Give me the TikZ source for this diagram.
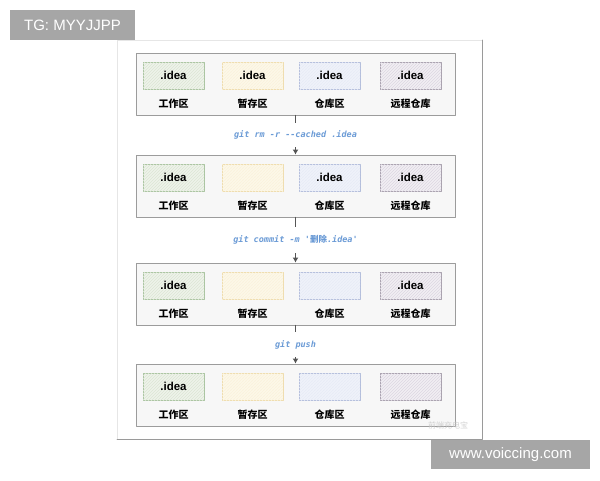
\documentclass[tikz,border=0pt]{standalone}
\usepackage{fontspec}
\setmainfont{Liberation Sans}
\newfontfamily\cjkfont{Noto Sans CJK SC}
\newfontfamily\cmdfont{DejaVu Sans Mono}
\usetikzlibrary{arrows.meta, patterns}

\definecolor{panelgray}{HTML}{9C9C9C}
\definecolor{linegray}{HTML}{555555}
\definecolor{cmdblue}{HTML}{6B9BD6}
\definecolor{stampgray}{HTML}{A6A6A6}
\definecolor{framegray}{HTML}{9A9A9A}
\definecolor{greenline}{HTML}{A9C4A0}
\definecolor{greenfill}{HTML}{EEF3EA}
\definecolor{greenhatch}{HTML}{DCE6D5}
\definecolor{yellowline}{HTML}{EFDDAE}
\definecolor{yellowfill}{HTML}{FDF8E8}
\definecolor{yellowhatch}{HTML}{FAF2DC}
\definecolor{blueline}{HTML}{B3BEDB}
\definecolor{bluefill}{HTML}{EFF2FA}
\definecolor{bluehatch}{HTML}{E7EBF6}
\definecolor{purpleline}{HTML}{A8A1AD}
\definecolor{purplefill}{HTML}{F1EEF3}
\definecolor{purplehatch}{HTML}{DDD7E2}

\tikzset{
  panel/.style={draw=panelgray, fill=white!97!black, line width=0.9pt, minimum width=319pt, minimum height=62pt, inner sep=0pt},
  areabox/.style={line width=1pt, minimum width=61pt, minimum height=27pt, inner sep=0pt,
    font=\bfseries\fontsize{11.5}{11.5}\selectfont},
  workbox/.style={areabox, draw=greenline, fill=greenfill, postaction={pattern=north east lines, pattern color=greenhatch}},
  stagebox/.style={areabox, draw=yellowline, fill=yellowfill, postaction={pattern=north east lines, pattern color=yellowhatch}},
  repobox/.style={areabox, draw=blueline, fill=bluefill, postaction={pattern=north east lines, pattern color=bluehatch}},
  remotebox/.style={areabox, draw=purpleline, fill=purplefill, postaction={pattern=north east lines, pattern color=purplehatch}},
  arealabel/.style={font=\cjkfont\bfseries\fontsize{10}{10}\selectfont},
  cmd/.style={fill=white, text=cmdblue, inner xsep=2pt, inner ysep=8pt,
    font=\cmdfont\bfseries\itshape\fontsize{8.5}{8.5}\selectfont},
  stepline/.style={draw=linegray, line width=1pt, -{Latex[length=5pt,width=6pt]}},
  stamp/.style={fill=stampgray, text=white, inner sep=0pt, font=\fontsize{15}{15}\selectfont}
}

\begin{document}
\begin{tikzpicture}[x=1pt, y=-1pt, line cap=round, line join=round]
  \useasboundingbox (0,0) rectangle (600,480);

  %========================
  % photo frame
  %========================
  \draw[framegray!25, line width=0.6pt] (117,439) -- (117,40) -- (482,40);
  \draw[framegray, line width=0.9pt] (117,439) -- (482,439) -- (482,40);

  %========================
  % 1: start
  %========================
  \begin{scope}[shift={(0,53)}]
    \node[panel] (s1) at (295.5,31) {};
    \node[workbox]   (s1work)   at (173.5,22.5) {.idea};
    \node[stagebox]  (s1stage)  at (252.5,22.5) {.idea};
    \node[repobox]   (s1repo)   at (329.5,22.5) {.idea};
    \node[remotebox] (s1remote) at (410.5,22.5) {.idea};
    \node[arealabel] (s1workl)   at (173.5,51) {工作区};
    \node[arealabel] (s1stagel)  at (252.5,51) {暂存区};
    \node[arealabel] (s1repol)   at (329.5,51) {仓库区};
    \node[arealabel] (s1remotel) at (410.5,51) {远程仓库};
  \end{scope}

  %========================
  % 2: after git rm
  %========================
  \begin{scope}[shift={(0,155)}]
    \node[panel] (s2) at (295.5,31) {};
    \node[workbox]   (s2work)   at (173.5,22.5) {.idea};
    \node[stagebox]  (s2stage)  at (252.5,22.5) {};
    \node[repobox]   (s2repo)   at (329.5,22.5) {.idea};
    \node[remotebox] (s2remote) at (410.5,22.5) {.idea};
    \node[arealabel] (s2workl)   at (173.5,51) {工作区};
    \node[arealabel] (s2stagel)  at (252.5,51) {暂存区};
    \node[arealabel] (s2repol)   at (329.5,51) {仓库区};
    \node[arealabel] (s2remotel) at (410.5,51) {远程仓库};
  \end{scope}

  %========================
  % 3: after git commit
  %========================
  \begin{scope}[shift={(0,263)}]
    \node[panel] (s3) at (295.5,31) {};
    \node[workbox]   (s3work)   at (173.5,22.5) {.idea};
    \node[stagebox]  (s3stage)  at (252.5,22.5) {};
    \node[repobox]   (s3repo)   at (329.5,22.5) {};
    \node[remotebox] (s3remote) at (410.5,22.5) {.idea};
    \node[arealabel] (s3workl)   at (173.5,51) {工作区};
    \node[arealabel] (s3stagel)  at (252.5,51) {暂存区};
    \node[arealabel] (s3repol)   at (329.5,51) {仓库区};
    \node[arealabel] (s3remotel) at (410.5,51) {远程仓库};
  \end{scope}

  %========================
  % 4: after git push
  %========================
  \begin{scope}[shift={(0,364)}]
    \node[panel] (s4) at (295.5,31) {};
    \node[workbox]   (s4work)   at (173.5,22.5) {.idea};
    \node[stagebox]  (s4stage)  at (252.5,22.5) {};
    \node[repobox]   (s4repo)   at (329.5,22.5) {};
    \node[remotebox] (s4remote) at (410.5,22.5) {};
    \node[arealabel] (s4workl)   at (173.5,51) {工作区};
    \node[arealabel] (s4stagel)  at (252.5,51) {暂存区};
    \node[arealabel] (s4repol)   at (329.5,51) {仓库区};
    \node[arealabel] (s4remotel) at (410.5,51) {远程仓库};
    \node[font=\cjkfont\fontsize{8}{8}\selectfont, text=gray!45, opacity=0.8] (mark) at (448,61) {前端充电宝};
  \end{scope}

  % commands between the steps
  \draw[stepline] (s1.south) -- (s2.north) node[cmd, midway] (c1) {git rm -r -{}-cached .idea};
  \draw[stepline] (s2.south) -- (s3.north) node[cmd, midway] (c2) {git commit -m '{\cjkfont 删除}.idea'};
  \draw[stepline] (s3.south) -- (s4.north) node[cmd, midway] (c3) {git push};

  % stamps
  \node[stamp, minimum width=125pt, minimum height=30pt] (tg) at (72.5,25) {TG: MYYJJPP};
  \node[stamp, minimum width=159pt, minimum height=29pt] (www) at (510.5,454.5) {www.voiccing.com};
\end{tikzpicture}
\end{document}
